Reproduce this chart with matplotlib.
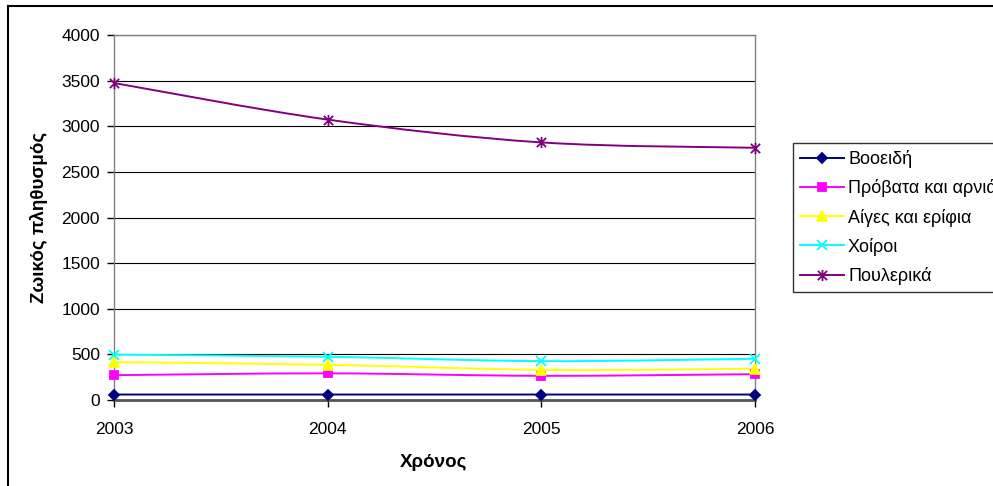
import matplotlib
matplotlib.use("Agg")
import matplotlib.pyplot as plt
from matplotlib.path import Path
from matplotlib.patches import PathPatch
from matplotlib.lines import Line2D
import numpy as np

plt.rcParams['font.family'] = ['Liberation Sans', 'DejaVu Sans']

years = [2003, 2004, 2005, 2006]
series_names = ["Βοοειδή", "Πρόβατα και αρνιά", "Αίγες και ερίφια", "Χοίροι", "Πουλερικά"]
cattle = [60, 60, 60, 60]
sheep = [272, 292, 265, 283]
goats = [415, 386, 331, 342]
pigs = [497, 474, 426, 452]
poultry = [3474, 3073, 2823, 2764]
y_ticks = [0, 500, 1000, 1500, 2000, 2500, 3000, 3500, 4000]

colors = ["#000080", "#FF00FF", "#FFFF00", "#00FFFF", "#800080"]

# Star marker: an X crossed by a vertical bar
star = Path([(-1, -1), (1, 1), (-1, 1), (1, -1), (0, -1.2), (0, 1.2)],
            [Path.MOVETO, Path.LINETO, Path.MOVETO, Path.LINETO, Path.MOVETO, Path.LINETO])
markers = ["D", "s", "^", "x", star]
msizes = [5.5, 6, 7, 7, 8]


def smooth_path(xs, ys):
    """Cubic Bezier path through the points (Catmull-Rom style smoothing)."""
    pts = np.column_stack([xs, ys]).astype(float)
    n = len(pts)
    verts = [pts[0]]
    codes = [Path.MOVETO]
    for i in range(n - 1):
        p_prev = pts[i - 1] if i > 0 else pts[i]
        p_next = pts[i + 2] if i + 2 < n else pts[i + 1]
        c1 = pts[i] + (pts[i + 1] - p_prev) / 6.0
        c2 = pts[i + 1] - (p_next - pts[i]) / 6.0
        verts += [c1, c2, pts[i + 1]]
        codes += [Path.CURVE4] * 3
    return Path(verts, codes)


fig = plt.figure(figsize=(9.93, 4.86), dpi=100)
ax = fig.add_axes([114 / 993, 1 - 400 / 486, (755 - 114) / 993, (400 - 35) / 486])

for yv in y_ticks[1:]:
    ax.axhline(yv, color="black", lw=0.8, zorder=1)

all_series = [cattle, sheep, goats, pigs, poultry]
handles = []
for vals, name, c, m, ms in zip(all_series, series_names, colors, markers, msizes):
    ax.add_patch(PathPatch(smooth_path(years, vals), facecolor="none",
                           edgecolor=c, lw=1.4, zorder=3, clip_on=False))
    ax.plot(years, vals, linestyle="none", marker=m, markersize=ms, color=c,
            markeredgecolor=c, markeredgewidth=1.3, zorder=4, clip_on=False)
    handles.append(Line2D([], [], color=c, lw=1.4, marker=m, markersize=ms,
                          markeredgecolor=c, markeredgewidth=1.3))

ax.set_xlim(2003, 2006)
ax.set_ylim(0, 4000)
ax.set_xticks(years)
ax.set_xticklabels([str(y) for y in years])
ax.set_yticks(y_ticks)
ax.tick_params(axis="both", labelsize=12.5, direction="out", length=5, width=1,
               color="black", pad=5)
ax.tick_params(axis="x", pad=11)

for side in ["left", "right", "top"]:
    ax.spines[side].set_color("#808080")
    ax.spines[side].set_linewidth(1.0)
ax.spines["bottom"].set_color("#555555")
ax.spines["bottom"].set_linewidth(2.0)

fig.text(39 / 993, 1 - 217 / 486, "Ζωικός πληθυσμός", rotation=90, fontsize=13.5,
         fontweight="bold", ha="center", va="center")
fig.text(434 / 993, 1 - 462 / 486, "Χρόνος", fontsize=13.5, fontweight="bold",
         ha="center", va="center")

leg = fig.legend(handles, series_names, loc="upper left",
                 bbox_to_anchor=(793 / 993, 1 - 143 / 486), fontsize=13,
                 frameon=True, fancybox=False, edgecolor="black", handlelength=2.4,
                 handletextpad=0.25, labelspacing=0.62, borderpad=0.4,
                 borderaxespad=0)
leg.get_frame().set_linewidth(1.0)

# Outer chart frame
fig.add_artist(Line2D([8 / 993, 8 / 993], [0, 1 - 6 / 486], color="black", lw=1.5,
                      transform=fig.transFigure))
fig.add_artist(Line2D([8 / 993, 1.0], [1 - 6 / 486, 1 - 6 / 486], color="black", lw=1.5,
                      transform=fig.transFigure))

fig.savefig("out.png", dpi=100)
